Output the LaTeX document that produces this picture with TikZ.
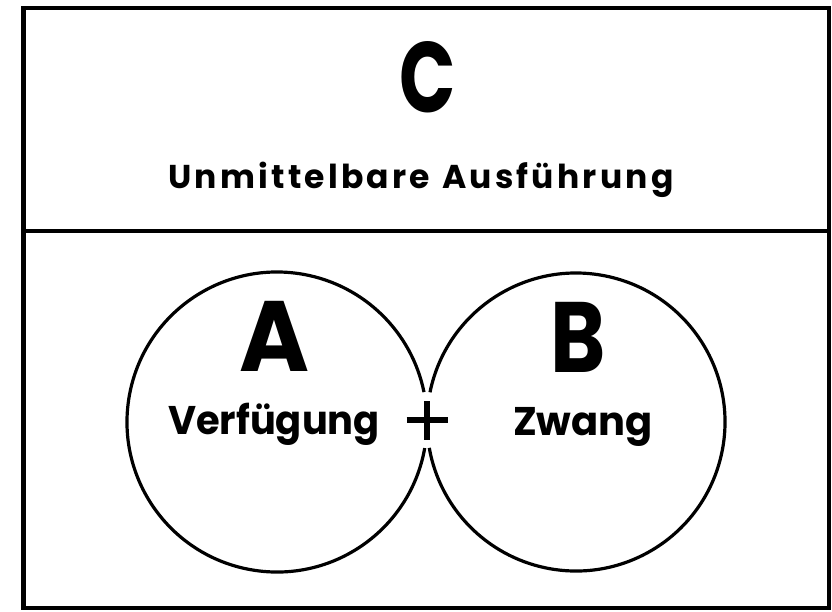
\documentclass[tikz,border=0pt]{standalone}
\usepackage{fontspec}
\setmainfont{Poppins}
\begin{document}
\begin{tikzpicture}[x=1pt,y=-1pt,
  frame/.style={line width=4.5pt},
  ring/.style={line width=3.2pt},
  letter/.style={font=\fontsize{100}{100}\selectfont\bfseries, inner sep=0pt, anchor=base},
  caption/.style={font=\fontsize{#1}{#1}\selectfont\bfseries, inner sep=0pt, anchor=base},
]
\useasboundingbox (0,0) rectangle (832,611);

% outer frame and divider
\draw[frame] (23.5,8) rectangle (829,608);
\draw[frame] (23.5,231) -- (829,231);

% top panel
\node[letter, xscale=0.74] (C) at (428,112) {C};
\node[caption=33] (title) at (421,188) {\addfontfeature{LetterSpace=9.8}Unmittelbare\hspace{12pt}Ausführung};

% the two touching circles, opened where they meet
\draw[ring] (277,422) ++(10:150) arc[start angle=10, end angle=348.5, radius=150];
\draw[ring] (576,422) ++(191.5:149) arc[start angle=191.5, end angle=530, radius=149];

\node[letter, xscale=0.95] (A) at (275,371) {A};
\node[letter, xscale=0.84] (B) at (578,372) {B};
\node[caption=40, xscale=0.96] (Vf) at (274,434) {Verfügung};
\node[caption=40] (Zw) at (583,435) {Zwang};

% plus sign between the circles
\coordinate (plus) at (427,420);
\draw[line width=5.5pt] ([xshift=-20.5pt]plus) -- ([xshift=20.5pt]plus);
\draw[line width=6pt] ([yshift=-19.5pt]plus) -- ([yshift=19.5pt]plus);
\end{tikzpicture}
\end{document}
